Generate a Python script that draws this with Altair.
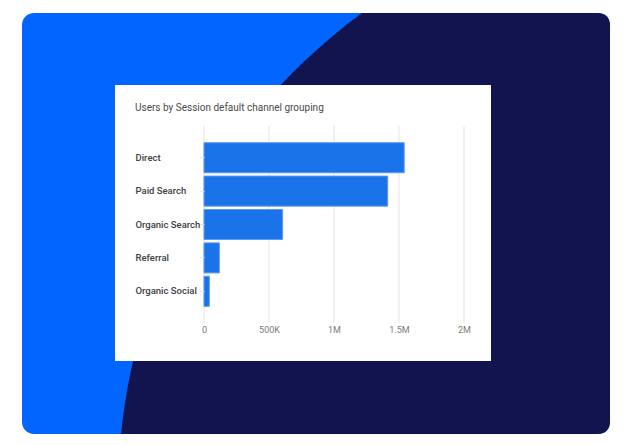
import altair as alt
import pandas as pd

channels = ["Direct", "Paid Search", "Organic Search", "Referral", "Organic Social"]
users = [1540000, 1413000, 605000, 118000, 41000]
x_ticks = [0, 500000, 1000000, 1500000, 2000000]
title_text = "Users by Session default channel grouping"

df = pd.DataFrame({"channel": channels, "users": users})
grid_df = pd.DataFrame({"users": x_ticks})

PL, PT, W, H = 204, 126, 260, 197
one = alt.Data(values=[{}])


def px(v):
    return alt.value(v - PL)


def py(v):
    return alt.value(v - PT)


label_expr = ("datum.value == 0 ? '0' : datum.value >= 1000000 ? "
              "format(datum.value / 1000000, '~g') + 'M' : "
              "format(datum.value / 1000, '~g') + 'K'")

x_axis = alt.Axis(values=x_ticks, labelExpr=label_expr, grid=False, domain=False,
                  ticks=False, labelPadding=2, labelColor="#7a7a7a", labelFont="Roboto",
                  labelFontSize=9, labelFlush=False, title=None, zindex=1)
x_scale = alt.Scale(domain=[0, 2000000], nice=False)

bg = alt.Chart(one).mark_rect(color="#0066ff", cornerRadius=12).encode(
    x=px(22), x2=px(610), y=py(13), y2=py(434))

navy_path = ("M362,13 L597,13 Q610,13 610,26 L610,421 Q610,434 597,434 "
             "L121,434 C138,266 226,113 362,13 Z")
navy = alt.Chart(one).mark_point(shape=navy_path, size=4, filled=True, color="#12144f",
                                 opacity=1, strokeWidth=0).encode(
    x=alt.value(-PL), y=alt.value(-PT))

card = alt.Chart(one).mark_rect(color="#ffffff").encode(
    x=px(115), x2=px(491), y=py(85), y2=py(361))

title = alt.Chart(one).mark_text(align="left", baseline="alphabetic", font="Roboto",
                                 fontSize=10, color="#4a4a4a").encode(
    x=px(135), y=py(110.5), text=alt.value(title_text))

grid = alt.Chart(grid_df).mark_rule(color="#e3e3e3", strokeWidth=1).encode(
    x=alt.X("users:Q", scale=x_scale, axis=x_axis))

bars = alt.Chart(df).mark_bar(color="#1a73e8", stroke="#5b9bef", strokeWidth=1).encode(
    x=alt.X("users:Q", scale=x_scale, axis=x_axis),
    y=alt.Y("channel:N", sort=channels,
            scale=alt.Scale(paddingInner=0.1, paddingOuter=0.5),
            axis=alt.Axis(title=None, domain=False, ticks=True, tickSize=4,
                          tickColor="#dddddd", labelAlign="left", labelPadding=65,
                          labelFont="Roboto", labelFontSize=9.5, labelColor="#3c4043",
                          labelFontWeight=500, zindex=1)),
)

chart = alt.layer(bg, navy, card, title, grid, bars).properties(
    width=W, height=H,
    padding={"left": PL, "top": PT, "right": 632 - PL - W, "bottom": 445 - PT - H},
    autosize=alt.AutoSizeParams(type="none"),
).configure(background="#ffffff").configure_view(stroke=None)

chart.save("out.html", embed_options={"renderer": "svg", "actions": False})
